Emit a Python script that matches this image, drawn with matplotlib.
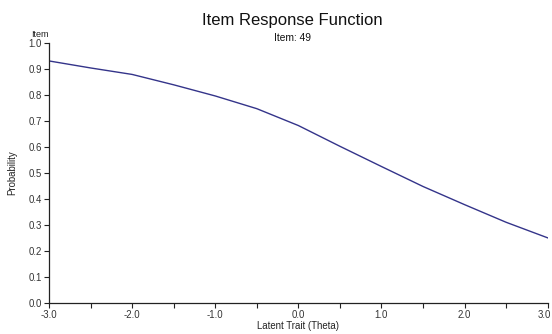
import matplotlib
matplotlib.use("Agg")
import matplotlib.pyplot as plt
from matplotlib.ticker import MultipleLocator
from matplotlib import font_manager
import matplotlib.transforms as mtransforms

names = {f.name for f in font_manager.fontManager.ttflist}
if 'Liberation Sans Narrow' in names:
    plt.rcParams['font.family'] = ['Liberation Sans Narrow', 'Liberation Sans', 'DejaVu Sans']
    scale = 1.05
else:
    plt.rcParams['font.family'] = ['Liberation Sans', 'DejaVu Sans']
    scale = 0.92

theta = [-3.0, -2.5, -2.0, -1.5, -1.0, -0.5, 0.0, 0.5, 1.0, 1.5, 2.0, 2.5, 3.0]
prob = [0.932, 0.905, 0.880, 0.840, 0.797, 0.748, 0.683, 0.603, 0.525, 0.448, 0.378, 0.310, 0.250]

x_ticks = [-3.0, -2.0, -1.0, 0.0, 1.0, 2.0, 3.0]
x_tick_labels = ["-3.0", "-2.0", "-1.0", "0.0", "1.0", "2.0", "3.0"]
y_ticks = [0.0, 0.1, 0.2, 0.3, 0.4, 0.5, 0.6, 0.7, 0.8, 0.9, 1.0]
y_tick_labels = ["%.1f" % v for v in y_ticks]

fig = plt.figure(figsize=(5.52, 3.34), dpi=100)
ax = fig.add_axes([49/552, 1-302.7/334, (547.7-49)/552, (302.7-43.3)/334])

ax.plot(theta, prob, color='#34348a', lw=1.0)

ax.set_xlim(-3, 3)
ax.set_ylim(0, 1)
ax.set_xticks(x_ticks)
ax.set_xticklabels(x_tick_labels)
ax.xaxis.set_minor_locator(MultipleLocator(0.5))
ax.set_yticks(y_ticks)
ax.set_yticklabels(y_tick_labels)

for s in ['top', 'right']:
    ax.spines[s].set_visible(False)
for s in ['left', 'bottom']:
    ax.spines[s].set_color('#222222')
    ax.spines[s].set_linewidth(0.9)

ax.tick_params(axis='both', which='both', direction='out', length=3.5, width=0.8,
               color='#222222', labelsize=7.5*scale, labelcolor='#333333', pad=1.5)

# keep the last x label inside the figure
last = ax.get_xticklabels()[-1]
last.set_transform(last.get_transform() + mtransforms.ScaledTranslation(-3/100, 0, fig.dpi_scale_trans))

ax.set_xlabel("Latent Trait (Theta)", fontsize=7.5*scale, color='#222222', labelpad=1)
ax.set_ylabel("Probability", fontsize=7.5*scale, color='#222222', labelpad=8)

fig.text(292/552, 1-21/334, "Item Response Function", ha='center', va='center', fontsize=13*scale, color='#111111')
fig.text(293/552, 1-38/334, "Item: 49", ha='center', va='center', fontsize=8*scale, color='#111111')
fig.text(40/552, 1-34.5/334, "Item", ha='center', va='center', fontsize=7*scale, color='#222222')

fig.savefig("out.png", dpi=100)
